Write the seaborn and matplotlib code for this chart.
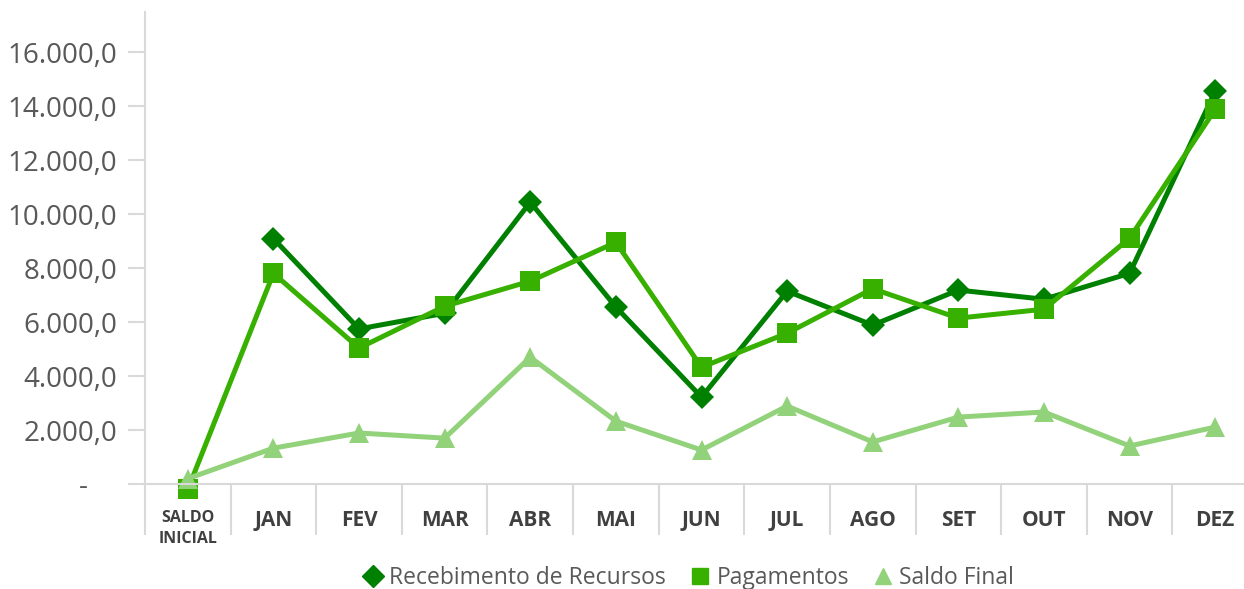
import numpy as np
import pandas as pd
import matplotlib
matplotlib.use("Agg")
import matplotlib.pyplot as plt
import seaborn as sns
from matplotlib.lines import Line2D
from matplotlib.ticker import FuncFormatter, FixedLocator
from matplotlib.transforms import Bbox

categories = ["SALDO\nINICIAL", "JAN", "FEV", "MAR", "ABR", "MAI", "JUN",
              "JUL", "AGO", "SET", "OUT", "NOV", "DEZ"]
recebimento = [np.nan, 9100, 5750, 6330, 10450, 6560, 3220, 7150, 5890, 7190, 6850, 7810, 14560]
pagamentos = [-200, 7810, 5040, 6590, 7520, 8960, 4330, 5590, 7240, 6150, 6480, 9110, 13890]
saldo_final = [200, 1330, 1890, 1700, 4700, 2330, 1260, 2890, 1560, 2480, 2670, 1410, 2110]

series_names = ["Recebimento de Recursos", "Pagamentos", "Saldo Final"]
series_values = [recebimento, pagamentos, saldo_final]
colors = ["#008000", "#38B000", "#92D27A"]
markers = ["D", "s", "^"]
msizes = [12, 14, 15]

sns.set_theme(style="white")
plt.rcParams["font.family"] = ["Open Sans", "DejaVu Sans"]

W, H = 1244, 589
fig = plt.figure(figsize=(W / 100, H / 100), dpi=100)
ax = fig.add_axes([145 / W, (H - 484) / H, (1258 - 145) / W, (484 - 12) / H])

x = np.arange(len(categories))
for name, vals, c, m, ms in zip(series_names, series_values, colors, markers, msizes):
    df = pd.DataFrame({"x": x, "y": vals}).dropna()
    sns.lineplot(data=df, x="x", y="y", ax=ax, color=c, linewidth=3.6,
                 marker=m, markersize=ms, markeredgewidth=0, clip_on=False,
                 legend=False)

ax.set_xlim(-0.5, len(categories) - 0.5)
ax.set_ylim(0, 17500)
ax.set_xlabel("")
ax.set_ylabel("")

grey = "#D9D9D9"
for s in ["top", "right"]:
    ax.spines[s].set_visible(False)
for s in ["left", "bottom"]:
    ax.spines[s].set_color(grey)
    ax.spines[s].set_linewidth(1.5)

ax.yaxis.set_major_locator(FixedLocator(np.arange(0, 16001, 2000)))
ax.yaxis.set_major_formatter(FuncFormatter(
    lambda v, p: "-    " if abs(v) < 1e-9 else f"{v:,.1f}".replace(",", "X").replace(".", ",").replace("X", ".")))
ax.tick_params(axis="y", which="major", length=12, width=1.5, color=grey,
               labelsize=20, labelcolor="#595959", pad=8, left=True)

ax.set_xticks(x)
ax.set_xticklabels(categories)
ax.set_xticks(np.arange(-0.5, len(categories), 1), minor=True)
ax.tick_params(axis="x", which="minor", length=37, width=1.5, color=grey, bottom=True)
ax.tick_params(axis="x", which="major", length=0, pad=19, labelsize=15,
               labelcolor="#404040")
for i, lab in enumerate(ax.get_xticklabels()):
    lab.set_fontweight("bold")
    if i == 0:
        lab.set_fontsize(11.5)
        lab.set_linespacing(1.35)
ax.grid(False)

handles = [Line2D([], [], linestyle="None", marker=m, color=c, markersize=s)
           for m, c, s in zip(markers, colors, [11, 12, 12])]
fig.legend(handles, series_names, loc="center", bbox_to_anchor=(0.553, 0.019),
           ncol=3, frameon=False, fontsize=16.5, handletextpad=0.2,
           columnspacing=1.0, labelcolor="#595959", handlelength=1.0,
           borderpad=0.2)

fig.savefig("out.png", dpi=100)
